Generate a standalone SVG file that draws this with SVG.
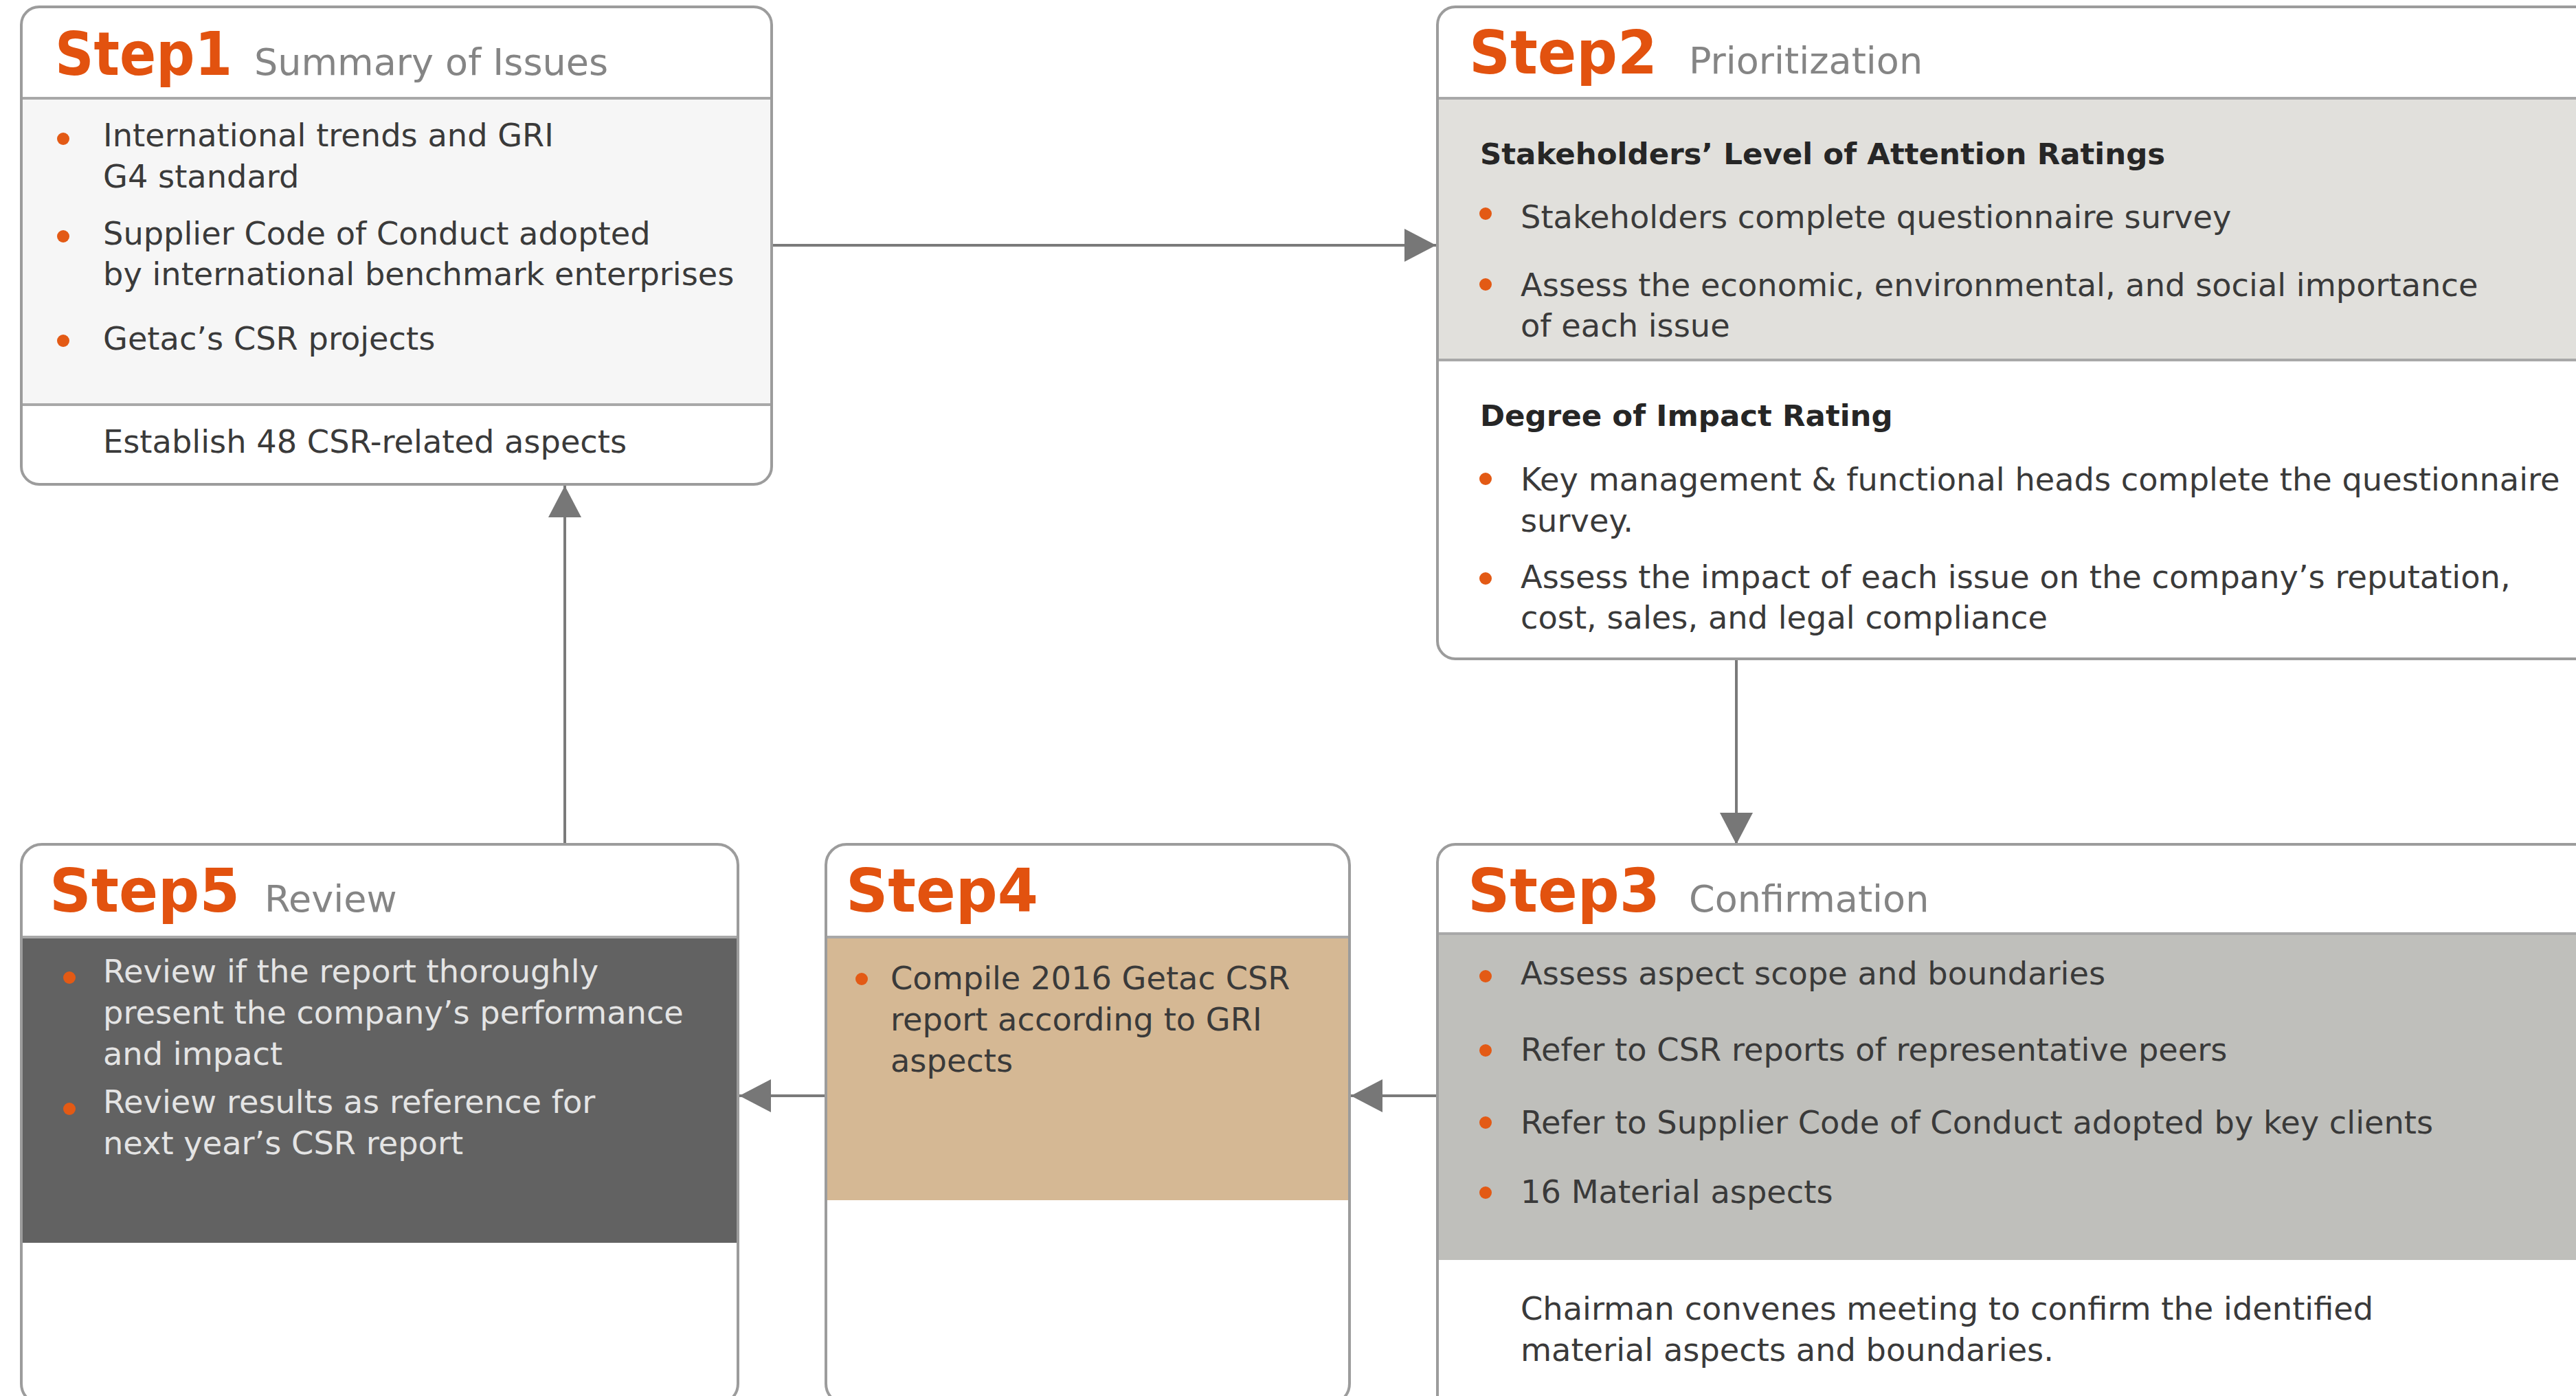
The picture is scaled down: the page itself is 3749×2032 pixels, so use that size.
<svg xmlns="http://www.w3.org/2000/svg" width="3749" height="2032" viewBox="0 0 3749 2032">
<style>
.box{fill:none;stroke:#9c9c9c;stroke-width:4}
.div{stroke:#a8a8a8;stroke-width:4}
.step{font-family:"DejaVu Sans",sans-serif;font-weight:bold;font-size:88px;fill:#e2520f}
.sub{font-family:"DejaVu Sans",sans-serif;font-size:54px;fill:#858585}
.t{font-family:"DejaVu Sans",sans-serif;font-size:46.3px;fill:#3a3a3a}
.tl{font-family:"DejaVu Sans",sans-serif;font-size:46.3px;fill:#e4e4e4}
.h{font-family:"DejaVu Sans",sans-serif;font-weight:bold;font-size:43.5px;fill:#262626}
.b{fill:#e35a15}
.conn{stroke:#7a7a7a;stroke-width:4;fill:none}
</style>
<defs>
<marker id="arr" markerUnits="userSpaceOnUse" markerWidth="48" markerHeight="52" refX="46" refY="26" orient="auto">
<path d="M0,2 L46,26 L0,50 Z" fill="#777"/>
</marker>
</defs>
<rect width="3749" height="2032" fill="#fff"/>

<g id="connectors">
<line class="conn" x1="1123" y1="357" x2="2090" y2="357" marker-end="url(#arr)"/>
<line class="conn" x1="2527" y1="959" x2="2527" y2="1229" marker-end="url(#arr)"/>
<line class="conn" x1="2092" y1="1595" x2="1966" y2="1595" marker-end="url(#arr)"/>
<line class="conn" x1="1202" y1="1595" x2="1076" y2="1595" marker-end="url(#arr)"/>
<line class="conn" x1="822" y1="1229" x2="822" y2="707" marker-end="url(#arr)"/>
</g>

<g id="step1">
<rect x="31" y="143" width="1092" height="446" fill="#f6f6f6"/>
<line class="div" x1="31" y1="143" x2="1123" y2="143"/>
<line class="div" x1="31" y1="589" x2="1123" y2="589"/>
<rect class="box" x="31" y="10" width="1092" height="695" rx="26"/>
<text class="step" x="80" y="109" textLength="258" lengthAdjust="spacingAndGlyphs">Step1</text>
<text class="sub" x="370" y="109">Summary of Issues</text>
<circle class="b" cx="92" cy="202" r="9"/>
<text class="t" x="150" y="213">International trends and GRI</text>
<text class="t" x="150" y="273">G4 standard</text>
<circle class="b" cx="92" cy="344" r="9"/>
<text class="t" x="150" y="356">Supplier Code of Conduct adopted</text>
<text class="t" x="150" y="415">by international benchmark enterprises</text>
<circle class="b" cx="92" cy="496" r="9"/>
<text class="t" x="150" y="509">Getac’s CSR projects</text>
<text class="t" x="150" y="659">Establish 48 CSR-related aspects</text>
</g>

<g id="step2">
<rect x="2092" y="143" width="1700" height="381" fill="#e1e0dc"/>
<line class="div" x1="2092" y1="143" x2="3760" y2="143"/>
<line class="div" x1="2092" y1="524" x2="3760" y2="524"/>
<rect class="box" x="2092" y="10" width="1720" height="949" rx="26"/>
<text class="step" x="2138" y="107" textLength="274" lengthAdjust="spacingAndGlyphs">Step2</text>
<text class="sub" x="2458" y="107">Prioritization</text>
<text class="h" x="2154" y="239">Stakeholders’ Level of Attention Ratings</text>
<circle class="b" cx="2162" cy="311" r="9"/>
<text class="t" x="2213" y="332">Stakeholders complete questionnaire survey</text>
<circle class="b" cx="2162" cy="414" r="9"/>
<text class="t" x="2213" y="431">Assess the economic, environmental, and social importance</text>
<text class="t" x="2213" y="490">of each issue</text>
<text class="h" x="2154" y="620">Degree of Impact Rating</text>
<circle class="b" cx="2162" cy="697" r="9"/>
<text class="t" x="2213" y="714">Key management &amp; functional heads complete the questionnaire</text>
<text class="t" x="2213" y="774">survey.</text>
<circle class="b" cx="2162" cy="842" r="9"/>
<text class="t" x="2213" y="856">Assess the impact of each issue on the company’s reputation,</text>
<text class="t" x="2213" y="915">cost, sales, and legal compliance</text>
</g>

<g id="step3">
<rect x="2092" y="1359" width="1700" height="475" fill="#bfbfbb"/>
<line class="div" x1="2092" y1="1359" x2="3760" y2="1359"/>
<rect class="box" x="2092" y="1229" width="1720" height="850" rx="26"/>
<text class="step" x="2136" y="1327" textLength="280" lengthAdjust="spacingAndGlyphs">Step3</text>
<text class="sub" x="2458" y="1327">Confirmation</text>
<circle class="b" cx="2162" cy="1421" r="9"/>
<text class="t" x="2213" y="1433">Assess aspect scope and boundaries</text>
<circle class="b" cx="2162" cy="1529" r="9"/>
<text class="t" x="2213" y="1544">Refer to CSR reports of representative peers</text>
<circle class="b" cx="2162" cy="1634" r="9"/>
<text class="t" x="2213" y="1650">Refer to Supplier Code of Conduct adopted by key clients</text>
<circle class="b" cx="2162" cy="1736" r="9"/>
<text class="t" x="2213" y="1751">16 Material aspects</text>
<text class="t" x="2213" y="1921">Chairman convenes meeting to confirm the identified</text>
<text class="t" x="2213" y="1981">material aspects and boundaries.</text>
</g>

<g id="step4">
<rect x="1202" y="1364" width="762" height="383" fill="#d5b894"/>
<line class="div" x1="1202" y1="1364" x2="1964" y2="1364"/>
<rect class="box" x="1202" y="1229" width="762" height="815" rx="30"/>
<text class="step" x="1231" y="1327" textLength="280" lengthAdjust="spacingAndGlyphs">Step4</text>
<circle class="b" cx="1254" cy="1425" r="9"/>
<text class="t" x="1296" y="1440">Compile 2016 Getac CSR</text>
<text class="t" x="1296" y="1500">report according to GRI</text>
<text class="t" x="1296" y="1560">aspects</text>
</g>

<g id="step5">
<rect x="31" y="1364" width="1043" height="445" fill="#626262"/>
<line class="div" x1="31" y1="1364" x2="1074" y2="1364"/>
<rect class="box" x="31" y="1229" width="1043" height="815" rx="30"/>
<text class="step" x="72" y="1327" textLength="277" lengthAdjust="spacingAndGlyphs">Step5</text>
<text class="sub" x="385" y="1327">Review</text>
<circle class="b" cx="101" cy="1423" r="9"/>
<text class="tl" x="150" y="1430">Review if the report thoroughly</text>
<text class="tl" x="150" y="1490">present the company’s performance</text>
<text class="tl" x="150" y="1550">and impact</text>
<circle class="b" cx="101" cy="1614" r="9"/>
<text class="tl" x="150" y="1620">Review results as reference for</text>
<text class="tl" x="150" y="1680">next year’s CSR report</text>
</g>
</svg>
